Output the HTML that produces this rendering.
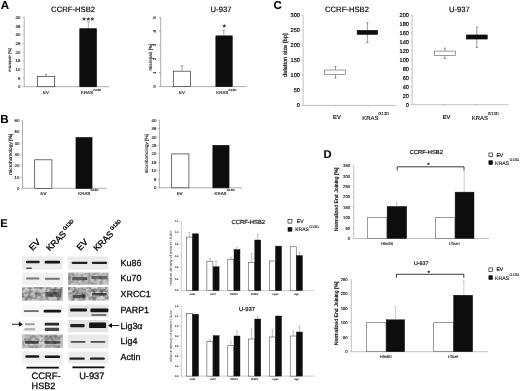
<!DOCTYPE html>
<html lang="en"><head><meta charset="utf-8"><title>Figure</title>
<style>
html,body{margin:0;padding:0;background:#fff;}
body{width:520px;height:391px;overflow:hidden;}
svg{display:block;font-family:"Liberation Sans",sans-serif;text-rendering:geometricPrecision;}
text{stroke:#000;stroke-width:0.1px;paint-order:stroke;}
text.hv{stroke-width:0.3px;}
text.md{stroke-width:0.16px;}
</style></head><body>
<svg width="520" height="391" viewBox="0 0 520 391">
<defs><filter id="bl" x="-5%" y="-5%" width="110%" height="110%"><feGaussianBlur stdDeviation="0.7"/></filter>
<filter id="nz" x="0" y="0" width="100%" height="100%"><feTurbulence type="fractalNoise" baseFrequency="0.28" numOctaves="2" seed="7" result="t"/><feColorMatrix in="t" type="matrix" values="0 0 0 0 0  0 0 0 0 0  0 0 0 0 0  2.6 0 0 0 -0.95" result="a"/><feComposite in="a" in2="SourceGraphic" operator="in"/><feGaussianBlur stdDeviation="0.5"/></filter>
<filter id="soft" x="-2%" y="-2%" width="104%" height="104%"><feGaussianBlur stdDeviation="0.3"/></filter></defs>
<rect width="520" height="391" fill="#fff"/>
<g filter="url(#soft)">
<line x1="24.20" y1="17.40" x2="24.20" y2="86.70" stroke="#8a8a8a" stroke-width="0.7"/>
<line x1="22.60" y1="17.40" x2="24.20" y2="17.40" stroke="#a5a5a5" stroke-width="0.6"/>
<line x1="22.60" y1="26.06" x2="24.20" y2="26.06" stroke="#a5a5a5" stroke-width="0.6"/>
<line x1="22.60" y1="34.73" x2="24.20" y2="34.73" stroke="#a5a5a5" stroke-width="0.6"/>
<line x1="22.60" y1="43.39" x2="24.20" y2="43.39" stroke="#a5a5a5" stroke-width="0.6"/>
<line x1="22.60" y1="52.05" x2="24.20" y2="52.05" stroke="#a5a5a5" stroke-width="0.6"/>
<line x1="22.60" y1="60.71" x2="24.20" y2="60.71" stroke="#a5a5a5" stroke-width="0.6"/>
<line x1="22.60" y1="69.38" x2="24.20" y2="69.38" stroke="#a5a5a5" stroke-width="0.6"/>
<line x1="22.60" y1="78.04" x2="24.20" y2="78.04" stroke="#a5a5a5" stroke-width="0.6"/>
<line x1="22.60" y1="86.70" x2="24.20" y2="86.70" stroke="#a5a5a5" stroke-width="0.6"/>
<line x1="24.20" y1="86.70" x2="109.20" y2="86.70" stroke="#8a8a8a" stroke-width="0.7"/>
<line x1="46.10" y1="76.40" x2="46.10" y2="74.30" stroke="#666" stroke-width="0.6"/>
<line x1="44.80" y1="74.30" x2="47.40" y2="74.30" stroke="#666" stroke-width="0.6"/>
<rect x="37.30" y="76.50" width="17.40" height="10.20" fill="#fff" stroke="#333" stroke-width="0.7"/>
<line x1="88.30" y1="28.70" x2="88.30" y2="21.90" stroke="#777" stroke-width="0.6"/>
<line x1="87.00" y1="21.90" x2="89.60" y2="21.90" stroke="#777" stroke-width="0.6"/>
<rect x="79.80" y="28.70" width="16.70" height="58.00" fill="#0b0b0b" stroke="#0b0b0b" stroke-width="0.7"/>
<line x1="160.70" y1="17.40" x2="160.70" y2="86.60" stroke="#8a8a8a" stroke-width="0.7"/>
<line x1="159.10" y1="17.40" x2="160.70" y2="17.40" stroke="#8a8a8a" stroke-width="0.7"/>
<line x1="159.10" y1="31.24" x2="160.70" y2="31.24" stroke="#8a8a8a" stroke-width="0.7"/>
<line x1="159.10" y1="45.08" x2="160.70" y2="45.08" stroke="#8a8a8a" stroke-width="0.7"/>
<line x1="159.10" y1="58.92" x2="160.70" y2="58.92" stroke="#8a8a8a" stroke-width="0.7"/>
<line x1="159.10" y1="72.76" x2="160.70" y2="72.76" stroke="#8a8a8a" stroke-width="0.7"/>
<line x1="159.10" y1="86.60" x2="160.70" y2="86.60" stroke="#8a8a8a" stroke-width="0.7"/>
<line x1="160.70" y1="86.60" x2="246.70" y2="86.60" stroke="#8a8a8a" stroke-width="0.7"/>
<line x1="182.00" y1="71.10" x2="182.00" y2="65.80" stroke="#666" stroke-width="0.6"/>
<line x1="180.70" y1="65.80" x2="183.30" y2="65.80" stroke="#666" stroke-width="0.6"/>
<rect x="173.30" y="71.20" width="17.30" height="15.40" fill="#fff" stroke="#333" stroke-width="0.7"/>
<line x1="223.80" y1="35.80" x2="223.80" y2="30.20" stroke="#777" stroke-width="0.6"/>
<line x1="222.50" y1="30.20" x2="225.10" y2="30.20" stroke="#777" stroke-width="0.6"/>
<rect x="215.90" y="35.90" width="16.30" height="50.70" fill="#0b0b0b" stroke="#0b0b0b" stroke-width="0.7"/>
<line x1="22.50" y1="120.50" x2="22.50" y2="188.30" stroke="#8a8a8a" stroke-width="0.7"/>
<line x1="20.90" y1="120.50" x2="22.50" y2="120.50" stroke="#a5a5a5" stroke-width="0.6"/>
<line x1="20.90" y1="131.80" x2="22.50" y2="131.80" stroke="#a5a5a5" stroke-width="0.6"/>
<line x1="20.90" y1="143.10" x2="22.50" y2="143.10" stroke="#a5a5a5" stroke-width="0.6"/>
<line x1="20.90" y1="154.40" x2="22.50" y2="154.40" stroke="#a5a5a5" stroke-width="0.6"/>
<line x1="20.90" y1="165.70" x2="22.50" y2="165.70" stroke="#a5a5a5" stroke-width="0.6"/>
<line x1="20.90" y1="177.00" x2="22.50" y2="177.00" stroke="#a5a5a5" stroke-width="0.6"/>
<line x1="20.90" y1="188.30" x2="22.50" y2="188.30" stroke="#a5a5a5" stroke-width="0.6"/>
<line x1="22.50" y1="188.30" x2="106.50" y2="188.30" stroke="#8a8a8a" stroke-width="0.7"/>
<rect x="34.70" y="159.80" width="17.20" height="28.50" fill="#fff" stroke="#333" stroke-width="0.7"/>
<rect x="76.00" y="137.60" width="16.00" height="50.70" fill="#0b0b0b" stroke="#0b0b0b" stroke-width="0.7"/>
<line x1="159.40" y1="120.00" x2="159.40" y2="187.80" stroke="#8a8a8a" stroke-width="0.7"/>
<line x1="157.80" y1="120.00" x2="159.40" y2="120.00" stroke="#a5a5a5" stroke-width="0.6"/>
<line x1="157.80" y1="128.47" x2="159.40" y2="128.47" stroke="#a5a5a5" stroke-width="0.6"/>
<line x1="157.80" y1="136.95" x2="159.40" y2="136.95" stroke="#a5a5a5" stroke-width="0.6"/>
<line x1="157.80" y1="145.43" x2="159.40" y2="145.43" stroke="#a5a5a5" stroke-width="0.6"/>
<line x1="157.80" y1="153.90" x2="159.40" y2="153.90" stroke="#a5a5a5" stroke-width="0.6"/>
<line x1="157.80" y1="162.38" x2="159.40" y2="162.38" stroke="#a5a5a5" stroke-width="0.6"/>
<line x1="157.80" y1="170.85" x2="159.40" y2="170.85" stroke="#a5a5a5" stroke-width="0.6"/>
<line x1="157.80" y1="179.33" x2="159.40" y2="179.33" stroke="#a5a5a5" stroke-width="0.6"/>
<line x1="157.80" y1="187.80" x2="159.40" y2="187.80" stroke="#a5a5a5" stroke-width="0.6"/>
<line x1="159.40" y1="187.80" x2="242.30" y2="187.80" stroke="#8a8a8a" stroke-width="0.7"/>
<rect x="171.70" y="153.90" width="17.20" height="33.90" fill="#fff" stroke="#333" stroke-width="0.7"/>
<rect x="212.90" y="145.40" width="16.10" height="42.40" fill="#0b0b0b" stroke="#0b0b0b" stroke-width="0.7"/>
<line x1="303.10" y1="15.40" x2="303.10" y2="105.40" stroke="#a8a8a8" stroke-width="0.7"/>
<line x1="301.50" y1="15.40" x2="303.10" y2="15.40" stroke="#a8a8a8" stroke-width="0.6"/>
<line x1="301.50" y1="30.40" x2="303.10" y2="30.40" stroke="#a8a8a8" stroke-width="0.6"/>
<line x1="301.50" y1="45.40" x2="303.10" y2="45.40" stroke="#a8a8a8" stroke-width="0.6"/>
<line x1="301.50" y1="60.40" x2="303.10" y2="60.40" stroke="#a8a8a8" stroke-width="0.6"/>
<line x1="301.50" y1="75.40" x2="303.10" y2="75.40" stroke="#a8a8a8" stroke-width="0.6"/>
<line x1="301.50" y1="90.40" x2="303.10" y2="90.40" stroke="#a8a8a8" stroke-width="0.6"/>
<line x1="301.50" y1="105.40" x2="303.10" y2="105.40" stroke="#a8a8a8" stroke-width="0.6"/>
<line x1="303.10" y1="105.40" x2="396.50" y2="105.40" stroke="#a8a8a8" stroke-width="0.7"/>
<line x1="335.50" y1="105.40" x2="335.50" y2="106.80" stroke="#a8a8a8" stroke-width="0.6"/>
<line x1="368.30" y1="105.40" x2="368.30" y2="106.80" stroke="#a8a8a8" stroke-width="0.6"/>
<line x1="335.50" y1="66.50" x2="335.50" y2="78.10" stroke="#555" stroke-width="0.6"/>
<line x1="334.40" y1="66.50" x2="336.60" y2="66.50" stroke="#555" stroke-width="0.6"/>
<line x1="334.40" y1="78.10" x2="336.60" y2="78.10" stroke="#555" stroke-width="0.6"/>
<rect x="324.60" y="70.00" width="21.00" height="4.50" fill="#fff" stroke="#5a5a5a" stroke-width="0.6"/>
<line x1="367.40" y1="22.60" x2="367.40" y2="42.60" stroke="#555" stroke-width="0.6"/>
<line x1="366.30" y1="22.60" x2="368.50" y2="22.60" stroke="#555" stroke-width="0.6"/>
<line x1="366.30" y1="42.60" x2="368.50" y2="42.60" stroke="#555" stroke-width="0.6"/>
<rect x="357.20" y="30.40" width="20.30" height="3.90" fill="#0b0b0b" stroke="#0b0b0b" stroke-width="0.7"/>
<line x1="412.10" y1="15.00" x2="412.10" y2="104.70" stroke="#a8a8a8" stroke-width="0.7"/>
<line x1="410.50" y1="15.00" x2="412.10" y2="15.00" stroke="#a8a8a8" stroke-width="0.6"/>
<line x1="410.50" y1="23.97" x2="412.10" y2="23.97" stroke="#a8a8a8" stroke-width="0.6"/>
<line x1="410.50" y1="32.94" x2="412.10" y2="32.94" stroke="#a8a8a8" stroke-width="0.6"/>
<line x1="410.50" y1="41.91" x2="412.10" y2="41.91" stroke="#a8a8a8" stroke-width="0.6"/>
<line x1="410.50" y1="50.88" x2="412.10" y2="50.88" stroke="#a8a8a8" stroke-width="0.6"/>
<line x1="410.50" y1="59.85" x2="412.10" y2="59.85" stroke="#a8a8a8" stroke-width="0.6"/>
<line x1="410.50" y1="68.82" x2="412.10" y2="68.82" stroke="#a8a8a8" stroke-width="0.6"/>
<line x1="410.50" y1="77.79" x2="412.10" y2="77.79" stroke="#a8a8a8" stroke-width="0.6"/>
<line x1="410.50" y1="86.76" x2="412.10" y2="86.76" stroke="#a8a8a8" stroke-width="0.6"/>
<line x1="410.50" y1="95.73" x2="412.10" y2="95.73" stroke="#a8a8a8" stroke-width="0.6"/>
<line x1="410.50" y1="104.70" x2="412.10" y2="104.70" stroke="#a8a8a8" stroke-width="0.6"/>
<line x1="412.10" y1="104.70" x2="508.70" y2="104.70" stroke="#a8a8a8" stroke-width="0.7"/>
<line x1="444.40" y1="104.70" x2="444.40" y2="106.10" stroke="#a8a8a8" stroke-width="0.6"/>
<line x1="476.80" y1="104.70" x2="476.80" y2="106.10" stroke="#a8a8a8" stroke-width="0.6"/>
<line x1="444.90" y1="48.20" x2="444.90" y2="58.50" stroke="#555" stroke-width="0.6"/>
<line x1="443.80" y1="48.20" x2="446.00" y2="48.20" stroke="#555" stroke-width="0.6"/>
<line x1="443.80" y1="58.50" x2="446.00" y2="58.50" stroke="#555" stroke-width="0.6"/>
<rect x="434.40" y="51.10" width="21.00" height="4.40" fill="#fff" stroke="#5a5a5a" stroke-width="0.6"/>
<line x1="476.80" y1="27.30" x2="476.80" y2="47.50" stroke="#555" stroke-width="0.6"/>
<line x1="475.70" y1="27.30" x2="477.90" y2="27.30" stroke="#555" stroke-width="0.6"/>
<line x1="475.70" y1="47.50" x2="477.90" y2="47.50" stroke="#555" stroke-width="0.6"/>
<rect x="466.40" y="35.00" width="20.80" height="4.00" fill="#0b0b0b" stroke="#0b0b0b" stroke-width="0.7"/>
<rect x="488.90" y="153.00" width="3.60" height="3.60" fill="#fff" stroke="#222" stroke-width="0.7"/>
<rect x="488.90" y="160.70" width="3.60" height="3.80" fill="#0b0b0b" stroke="#0b0b0b" stroke-width="0.6"/>
<line x1="353.70" y1="165.70" x2="353.70" y2="238.50" stroke="#a8a8a8" stroke-width="0.7"/>
<line x1="352.50" y1="165.70" x2="353.70" y2="165.70" stroke="#a8a8a8" stroke-width="0.6"/>
<line x1="352.50" y1="176.10" x2="353.70" y2="176.10" stroke="#a8a8a8" stroke-width="0.6"/>
<line x1="352.50" y1="186.50" x2="353.70" y2="186.50" stroke="#a8a8a8" stroke-width="0.6"/>
<line x1="352.50" y1="196.90" x2="353.70" y2="196.90" stroke="#a8a8a8" stroke-width="0.6"/>
<line x1="352.50" y1="207.30" x2="353.70" y2="207.30" stroke="#a8a8a8" stroke-width="0.6"/>
<line x1="352.50" y1="217.70" x2="353.70" y2="217.70" stroke="#a8a8a8" stroke-width="0.6"/>
<line x1="352.50" y1="228.10" x2="353.70" y2="228.10" stroke="#a8a8a8" stroke-width="0.6"/>
<line x1="352.50" y1="238.50" x2="353.70" y2="238.50" stroke="#a8a8a8" stroke-width="0.6"/>
<line x1="353.70" y1="238.50" x2="489.20" y2="238.50" stroke="#a8a8a8" stroke-width="0.7"/>
<rect x="367.30" y="217.70" width="19.60" height="20.80" fill="#fff" stroke="#5a5a5a" stroke-width="0.6"/>
<rect x="387.10" y="206.40" width="19.60" height="32.10" fill="#0b0b0b" stroke="#0b0b0b" stroke-width="0.4"/>
<line x1="396.70" y1="206.20" x2="396.70" y2="202.60" stroke="#999" stroke-width="0.5"/>
<line x1="395.90" y1="202.60" x2="397.50" y2="202.60" stroke="#999" stroke-width="0.5"/>
<rect x="435.60" y="217.70" width="19.40" height="20.80" fill="#fff" stroke="#5a5a5a" stroke-width="0.6"/>
<rect x="455.10" y="192.10" width="18.90" height="46.40" fill="#0b0b0b" stroke="#0b0b0b" stroke-width="0.4"/>
<line x1="464.20" y1="192.30" x2="464.20" y2="171.80" stroke="#999" stroke-width="0.5"/>
<line x1="463.40" y1="171.80" x2="465.00" y2="171.80" stroke="#999" stroke-width="0.5"/>
<path d="M397.2 170.4V166.8H464V170.4" fill="none" stroke="#222" stroke-width="0.9"/>
<rect x="488.90" y="267.90" width="3.60" height="3.60" fill="#fff" stroke="#222" stroke-width="0.7"/>
<rect x="488.90" y="275.70" width="3.60" height="3.80" fill="#0b0b0b" stroke="#0b0b0b" stroke-width="0.6"/>
<line x1="351.30" y1="279.40" x2="351.30" y2="351.70" stroke="#a8a8a8" stroke-width="0.7"/>
<line x1="350.10" y1="279.40" x2="351.30" y2="279.40" stroke="#a8a8a8" stroke-width="0.6"/>
<line x1="350.10" y1="293.86" x2="351.30" y2="293.86" stroke="#a8a8a8" stroke-width="0.6"/>
<line x1="350.10" y1="308.32" x2="351.30" y2="308.32" stroke="#a8a8a8" stroke-width="0.6"/>
<line x1="350.10" y1="322.78" x2="351.30" y2="322.78" stroke="#a8a8a8" stroke-width="0.6"/>
<line x1="350.10" y1="337.24" x2="351.30" y2="337.24" stroke="#a8a8a8" stroke-width="0.6"/>
<line x1="350.10" y1="351.70" x2="351.30" y2="351.70" stroke="#a8a8a8" stroke-width="0.6"/>
<line x1="351.30" y1="351.70" x2="488.00" y2="351.70" stroke="#a8a8a8" stroke-width="0.7"/>
<rect x="366.60" y="322.70" width="19.40" height="29.00" fill="#fff" stroke="#5a5a5a" stroke-width="0.6"/>
<rect x="386.20" y="319.80" width="18.50" height="31.90" fill="#0b0b0b" stroke="#0b0b0b" stroke-width="0.4"/>
<line x1="395.60" y1="319.60" x2="395.60" y2="306.60" stroke="#999" stroke-width="0.5"/>
<line x1="394.80" y1="306.60" x2="396.40" y2="306.60" stroke="#999" stroke-width="0.5"/>
<rect x="433.70" y="322.70" width="19.60" height="29.00" fill="#fff" stroke="#555" stroke-width="0.6"/>
<rect x="453.60" y="295.20" width="19.10" height="56.50" fill="#0b0b0b" stroke="#0b0b0b" stroke-width="0.4"/>
<line x1="463.80" y1="295.00" x2="463.80" y2="280.50" stroke="#999" stroke-width="0.5"/>
<line x1="463.00" y1="280.50" x2="464.60" y2="280.50" stroke="#999" stroke-width="0.5"/>
<path d="M396.4 277.7V274.3H463.8V277.7" fill="none" stroke="#222" stroke-width="0.9"/>
<rect x="288.00" y="219.40" width="3.90" height="3.70" fill="#fff" stroke="#222" stroke-width="0.7"/>
<rect x="288.00" y="227.40" width="3.90" height="3.80" fill="#0b0b0b" stroke="#0b0b0b" stroke-width="0.6"/>
<line x1="181.30" y1="220.80" x2="181.30" y2="290.60" stroke="#a8a8a8" stroke-width="0.6"/>
<line x1="180.40" y1="220.80" x2="181.30" y2="220.80" stroke="#a8a8a8" stroke-width="0.5"/>
<line x1="180.40" y1="232.43" x2="181.30" y2="232.43" stroke="#a8a8a8" stroke-width="0.5"/>
<line x1="180.40" y1="244.07" x2="181.30" y2="244.07" stroke="#a8a8a8" stroke-width="0.5"/>
<line x1="180.40" y1="255.70" x2="181.30" y2="255.70" stroke="#a8a8a8" stroke-width="0.5"/>
<line x1="180.40" y1="267.33" x2="181.30" y2="267.33" stroke="#a8a8a8" stroke-width="0.5"/>
<line x1="180.40" y1="278.97" x2="181.30" y2="278.97" stroke="#a8a8a8" stroke-width="0.5"/>
<line x1="180.40" y1="290.60" x2="181.30" y2="290.60" stroke="#a8a8a8" stroke-width="0.5"/>
<line x1="181.30" y1="290.60" x2="314.50" y2="290.60" stroke="#a8a8a8" stroke-width="0.6"/>
<line x1="189.35" y1="237.10" x2="189.35" y2="232.30" stroke="#777" stroke-width="0.45"/>
<line x1="188.55" y1="232.30" x2="190.15" y2="232.30" stroke="#777" stroke-width="0.45"/>
<rect x="186.30" y="237.10" width="6.00" height="53.50" fill="#fff" stroke="#333" stroke-width="0.5"/>
<rect x="192.50" y="233.80" width="6.00" height="56.80" fill="#0b0b0b" stroke="#0b0b0b" stroke-width="0.4"/>
<line x1="209.95" y1="261.20" x2="209.95" y2="258.50" stroke="#777" stroke-width="0.45"/>
<line x1="209.15" y1="258.50" x2="210.75" y2="258.50" stroke="#777" stroke-width="0.45"/>
<line x1="216.05" y1="266.80" x2="216.05" y2="261.00" stroke="#777" stroke-width="0.45"/>
<line x1="215.25" y1="261.00" x2="216.85" y2="261.00" stroke="#777" stroke-width="0.45"/>
<rect x="206.90" y="261.20" width="6.00" height="29.40" fill="#fff" stroke="#333" stroke-width="0.5"/>
<rect x="213.10" y="266.80" width="6.00" height="23.80" fill="#0b0b0b" stroke="#0b0b0b" stroke-width="0.4"/>
<line x1="230.85" y1="259.20" x2="230.85" y2="257.50" stroke="#777" stroke-width="0.45"/>
<line x1="230.05" y1="257.50" x2="231.65" y2="257.50" stroke="#777" stroke-width="0.45"/>
<line x1="236.95" y1="249.60" x2="236.95" y2="247.70" stroke="#777" stroke-width="0.45"/>
<line x1="236.15" y1="247.70" x2="237.75" y2="247.70" stroke="#777" stroke-width="0.45"/>
<rect x="227.80" y="259.20" width="6.00" height="31.40" fill="#fff" stroke="#333" stroke-width="0.5"/>
<rect x="234.00" y="249.60" width="6.00" height="41.00" fill="#0b0b0b" stroke="#0b0b0b" stroke-width="0.4"/>
<line x1="251.65" y1="262.30" x2="251.65" y2="253.70" stroke="#777" stroke-width="0.45"/>
<line x1="250.85" y1="253.70" x2="252.45" y2="253.70" stroke="#777" stroke-width="0.45"/>
<line x1="257.75" y1="240.00" x2="257.75" y2="234.10" stroke="#777" stroke-width="0.45"/>
<line x1="256.95" y1="234.10" x2="258.55" y2="234.10" stroke="#777" stroke-width="0.45"/>
<rect x="248.60" y="262.30" width="6.00" height="28.30" fill="#fff" stroke="#333" stroke-width="0.5"/>
<rect x="254.80" y="240.00" width="6.00" height="50.60" fill="#0b0b0b" stroke="#0b0b0b" stroke-width="0.4"/>
<rect x="269.30" y="261.00" width="6.00" height="29.60" fill="#fff" stroke="#333" stroke-width="0.5"/>
<rect x="275.50" y="246.10" width="6.00" height="44.50" fill="#0b0b0b" stroke="#0b0b0b" stroke-width="0.4"/>
<line x1="299.35" y1="255.60" x2="299.35" y2="252.20" stroke="#777" stroke-width="0.45"/>
<line x1="298.55" y1="252.20" x2="300.15" y2="252.20" stroke="#777" stroke-width="0.45"/>
<rect x="290.20" y="246.80" width="6.00" height="43.80" fill="#fff" stroke="#333" stroke-width="0.5"/>
<rect x="296.40" y="255.60" width="6.00" height="35.00" fill="#0b0b0b" stroke="#0b0b0b" stroke-width="0.4"/>
<line x1="181.30" y1="305.90" x2="181.30" y2="376.10" stroke="#a8a8a8" stroke-width="0.6"/>
<line x1="180.40" y1="305.90" x2="181.30" y2="305.90" stroke="#a8a8a8" stroke-width="0.5"/>
<line x1="180.40" y1="315.93" x2="181.30" y2="315.93" stroke="#a8a8a8" stroke-width="0.5"/>
<line x1="180.40" y1="325.96" x2="181.30" y2="325.96" stroke="#a8a8a8" stroke-width="0.5"/>
<line x1="180.40" y1="335.99" x2="181.30" y2="335.99" stroke="#a8a8a8" stroke-width="0.5"/>
<line x1="180.40" y1="346.01" x2="181.30" y2="346.01" stroke="#a8a8a8" stroke-width="0.5"/>
<line x1="180.40" y1="356.04" x2="181.30" y2="356.04" stroke="#a8a8a8" stroke-width="0.5"/>
<line x1="180.40" y1="366.07" x2="181.30" y2="366.07" stroke="#a8a8a8" stroke-width="0.5"/>
<line x1="180.40" y1="376.10" x2="181.30" y2="376.10" stroke="#a8a8a8" stroke-width="0.5"/>
<line x1="181.30" y1="376.10" x2="314.50" y2="376.10" stroke="#a8a8a8" stroke-width="0.6"/>
<rect x="186.30" y="313.60" width="6.00" height="62.50" fill="#fff" stroke="#333" stroke-width="0.5"/>
<rect x="192.50" y="314.20" width="6.00" height="61.90" fill="#0b0b0b" stroke="#0b0b0b" stroke-width="0.4"/>
<line x1="209.95" y1="341.60" x2="209.95" y2="339.60" stroke="#777" stroke-width="0.45"/>
<line x1="209.15" y1="339.60" x2="210.75" y2="339.60" stroke="#777" stroke-width="0.45"/>
<rect x="206.90" y="341.60" width="6.00" height="34.50" fill="#fff" stroke="#333" stroke-width="0.5"/>
<rect x="213.10" y="335.60" width="6.00" height="40.50" fill="#0b0b0b" stroke="#0b0b0b" stroke-width="0.4"/>
<line x1="230.85" y1="345.60" x2="230.85" y2="341.80" stroke="#777" stroke-width="0.45"/>
<line x1="230.05" y1="341.80" x2="231.65" y2="341.80" stroke="#777" stroke-width="0.45"/>
<line x1="236.95" y1="336.00" x2="236.95" y2="331.30" stroke="#777" stroke-width="0.45"/>
<line x1="236.15" y1="331.30" x2="237.75" y2="331.30" stroke="#777" stroke-width="0.45"/>
<rect x="227.80" y="345.60" width="6.00" height="30.50" fill="#fff" stroke="#333" stroke-width="0.5"/>
<rect x="234.00" y="336.00" width="6.00" height="40.10" fill="#0b0b0b" stroke="#0b0b0b" stroke-width="0.4"/>
<line x1="251.65" y1="339.00" x2="251.65" y2="328.80" stroke="#777" stroke-width="0.45"/>
<line x1="250.85" y1="328.80" x2="252.45" y2="328.80" stroke="#777" stroke-width="0.45"/>
<line x1="257.75" y1="319.00" x2="257.75" y2="316.50" stroke="#777" stroke-width="0.45"/>
<line x1="256.95" y1="316.50" x2="258.55" y2="316.50" stroke="#777" stroke-width="0.45"/>
<rect x="248.60" y="339.00" width="6.00" height="37.10" fill="#fff" stroke="#333" stroke-width="0.5"/>
<rect x="254.80" y="319.00" width="6.00" height="57.10" fill="#0b0b0b" stroke="#0b0b0b" stroke-width="0.4"/>
<line x1="272.35" y1="337.00" x2="272.35" y2="329.50" stroke="#777" stroke-width="0.45"/>
<line x1="271.55" y1="329.50" x2="273.15" y2="329.50" stroke="#777" stroke-width="0.45"/>
<rect x="269.30" y="337.00" width="6.00" height="39.10" fill="#fff" stroke="#333" stroke-width="0.5"/>
<rect x="275.50" y="316.00" width="6.00" height="60.10" fill="#0b0b0b" stroke="#0b0b0b" stroke-width="0.4"/>
<line x1="293.25" y1="336.00" x2="293.25" y2="331.30" stroke="#777" stroke-width="0.45"/>
<line x1="292.45" y1="331.30" x2="294.05" y2="331.30" stroke="#777" stroke-width="0.45"/>
<line x1="299.35" y1="332.00" x2="299.35" y2="325.80" stroke="#777" stroke-width="0.45"/>
<line x1="298.55" y1="325.80" x2="300.15" y2="325.80" stroke="#777" stroke-width="0.45"/>
<rect x="290.20" y="336.00" width="6.00" height="40.10" fill="#fff" stroke="#333" stroke-width="0.5"/>
<rect x="296.40" y="332.00" width="6.00" height="44.10" fill="#0b0b0b" stroke="#0b0b0b" stroke-width="0.4"/>
<g filter="url(#bl)">
<rect x="22.0" y="256.3" width="40.80" height="13.30" fill="#ececec"/>
<rect x="68.1" y="256.3" width="40.50" height="13.30" fill="#ebebeb"/>
<rect x="22.0" y="272.6" width="40.80" height="12.20" fill="#f0f0f0"/>
<rect x="68.1" y="272.6" width="40.50" height="12.20" fill="#c6c6c6"/>
<rect x="22.0" y="287.2" width="40.80" height="13.40" fill="#cbcbcb"/>
<rect x="68.1" y="287.2" width="40.50" height="13.40" fill="#d2d2d2"/>
<rect x="22.0" y="304.6" width="40.80" height="12.60" fill="#f6f6f6"/>
<rect x="68.1" y="304.6" width="40.50" height="12.60" fill="#e6e6e6"/>
<rect x="22.0" y="320.0" width="40.80" height="12.20" fill="#f6f6f6"/>
<rect x="68.1" y="320.0" width="40.50" height="12.20" fill="#e3e3e3"/>
<rect x="22.0" y="334.4" width="40.80" height="13.80" fill="#d4d4d4"/>
<rect x="68.1" y="334.4" width="40.50" height="13.80" fill="#e9e9e9"/>
<rect x="22.0" y="351.5" width="40.80" height="12.10" fill="#f0f0f0"/>
<rect x="68.1" y="351.5" width="40.50" height="12.10" fill="#ececec"/>
</g>
<rect x="22.0" y="287.2" width="40.80" height="13.40" fill="#000" opacity="0.42" filter="url(#nz)"/>
<rect x="68.1" y="287.2" width="40.50" height="13.40" fill="#000" opacity="0.45" filter="url(#nz)"/>
<rect x="68.1" y="272.6" width="40.50" height="12.20" fill="#000" opacity="0.25" filter="url(#nz)"/>
<rect x="22.0" y="334.4" width="40.80" height="13.80" fill="#000" opacity="0.3" filter="url(#nz)"/>
<g filter="url(#bl)">
<rect x="25.80" y="260.80" width="14.00" height="2.40" rx="1.20" fill="#0c0c0c" opacity="0.9"/>
<rect x="44.65" y="260.80" width="15.50" height="2.80" rx="1.20" fill="#0c0c0c" opacity="0.95"/>
<rect x="26.00" y="267.40" width="6.00" height="1.60" rx="0.80" fill="#0c0c0c" opacity="0.7"/>
<rect x="71.60" y="261.70" width="16.00" height="2.20" rx="1.10" fill="#0c0c0c" opacity="0.9"/>
<rect x="91.65" y="261.70" width="15.50" height="2.20" rx="1.10" fill="#0c0c0c" opacity="0.9"/>
<rect x="26.05" y="277.60" width="13.50" height="1.80" rx="0.90" fill="#0c0c0c" opacity="0.5"/>
<rect x="44.90" y="277.80" width="15.00" height="2.00" rx="1.00" fill="#0c0c0c" opacity="0.55"/>
<rect x="72.10" y="277.00" width="15.00" height="3.20" rx="1.20" fill="#0c0c0c" opacity="0.55"/>
<rect x="91.40" y="276.00" width="16.00" height="3.20" rx="1.20" fill="#0c0c0c" opacity="0.45"/>
<rect x="68.10" y="272.60" width="3.00" height="12.00" rx="1.20" fill="#0c0c0c" opacity="0.18"/>
<rect x="87.55" y="272.60" width="2.50" height="12.00" rx="1.20" fill="#0c0c0c" opacity="0.12"/>
<rect x="45.40" y="291.70" width="16.00" height="5.00" rx="1.20" fill="#0c0c0c" opacity="0.5"/>
<rect x="49.40" y="288.70" width="12.00" height="3.00" rx="1.20" fill="#0c0c0c" opacity="0.3"/>
<rect x="25.30" y="290.00" width="15.00" height="8.00" rx="1.20" fill="#0c0c0c" opacity="0.08"/>
<rect x="72.60" y="294.90" width="13.00" height="3.40" rx="1.20" fill="#0c0c0c" opacity="0.5"/>
<rect x="71.60" y="288.50" width="14.00" height="9.00" rx="1.20" fill="#0c0c0c" opacity="0.18"/>
<rect x="91.90" y="293.00" width="15.00" height="2.60" rx="1.20" fill="#0c0c0c" opacity="0.7"/>
<rect x="92.40" y="289.00" width="14.00" height="3.00" rx="1.20" fill="#0c0c0c" opacity="0.15"/>
<rect x="23.80" y="310.25" width="15.00" height="1.70" rx="0.85" fill="#0c0c0c" opacity="0.6"/>
<rect x="43.65" y="309.70" width="17.50" height="2.80" rx="1.20" fill="#0c0c0c" opacity="0.95"/>
<rect x="70.10" y="308.60" width="17.00" height="2.80" rx="1.20" fill="#0c0c0c" opacity="0.95"/>
<rect x="90.40" y="308.50" width="18.00" height="3.80" rx="1.20" fill="#0c0c0c" opacity="0.97"/>
<rect x="91.40" y="314.10" width="15.00" height="1.80" rx="0.90" fill="#0c0c0c" opacity="0.55"/>
<rect x="24.80" y="323.30" width="10.00" height="2.00" rx="1.00" fill="#0c0c0c" opacity="0.35"/>
<rect x="24.30" y="328.00" width="11.00" height="2.40" rx="1.20" fill="#0c0c0c" opacity="0.25"/>
<rect x="44.65" y="322.80" width="14.50" height="2.80" rx="1.20" fill="#0c0c0c" opacity="0.88"/>
<rect x="44.65" y="327.70" width="14.50" height="3.20" rx="1.20" fill="#0c0c0c" opacity="0.75"/>
<rect x="70.15" y="323.90" width="14.50" height="3.40" rx="1.20" fill="#0c0c0c" opacity="0.9"/>
<rect x="89.10" y="322.50" width="17.00" height="5.60" rx="1.20" fill="#0c0c0c" opacity="0.97"/>
<rect x="24.80" y="341.00" width="14.00" height="2.80" rx="1.20" fill="#0c0c0c" opacity="0.7"/>
<rect x="44.40" y="340.70" width="16.00" height="3.00" rx="1.20" fill="#0c0c0c" opacity="0.65"/>
<rect x="24.30" y="335.30" width="15.00" height="5.00" rx="1.20" fill="#0c0c0c" opacity="0.12"/>
<rect x="44.40" y="335.30" width="16.00" height="5.00" rx="1.20" fill="#0c0c0c" opacity="0.2"/>
<rect x="24.30" y="345.05" width="15.00" height="2.50" rx="1.20" fill="#0c0c0c" opacity="0.1"/>
<rect x="44.40" y="345.05" width="16.00" height="2.50" rx="1.20" fill="#0c0c0c" opacity="0.15"/>
<rect x="70.60" y="340.90" width="15.00" height="1.80" rx="0.90" fill="#0c0c0c" opacity="0.7"/>
<rect x="90.40" y="340.90" width="15.00" height="1.80" rx="0.90" fill="#0c0c0c" opacity="0.7"/>
<rect x="25.30" y="355.35" width="14.00" height="2.50" rx="1.20" fill="#0c0c0c" opacity="0.95"/>
<rect x="44.65" y="355.55" width="15.50" height="2.50" rx="1.20" fill="#0c0c0c" opacity="0.95"/>
<rect x="69.35" y="357.60" width="15.50" height="2.20" rx="1.10" fill="#0c0c0c" opacity="0.9"/>
<rect x="89.90" y="357.60" width="15.00" height="2.20" rx="1.10" fill="#0c0c0c" opacity="0.9"/>
</g>
<path d="M12 324.3H20" stroke="#111" stroke-width="0.9" fill="none"/><path d="M22.9 324.3L18.9 321.8V326.8Z" fill="#111"/>
<path d="M119.2 325.5H111" stroke="#111" stroke-width="0.9" fill="none"/><path d="M108 325.5L112 323.1V327.9Z" fill="#111"/>
<line x1="26.50" y1="367.70" x2="58.80" y2="367.70" stroke="#0a0a0a" stroke-width="1.8"/>
<line x1="72.40" y1="367.40" x2="104.50" y2="367.40" stroke="#0a0a0a" stroke-width="1.8"/>
</g>
<g>
<text x="0.80" y="9.20" font-size="11.6" text-anchor="start" font-weight="bold" fill="#000">A</text>
<text x="73.10" y="11.90" font-size="7.7" text-anchor="middle" font-weight="normal" fill="#000" class="md">CCRF-HSB2</text>
<text x="20.40" y="18.95" font-size="4.3" text-anchor="end" font-weight="normal" fill="#000">40</text>
<text x="20.40" y="27.61" font-size="4.3" text-anchor="end" font-weight="normal" fill="#000">35</text>
<text x="20.40" y="36.27" font-size="4.3" text-anchor="end" font-weight="normal" fill="#000">30</text>
<text x="20.40" y="44.94" font-size="4.3" text-anchor="end" font-weight="normal" fill="#000">25</text>
<text x="20.40" y="53.60" font-size="4.3" text-anchor="end" font-weight="normal" fill="#000">20</text>
<text x="20.40" y="62.26" font-size="4.3" text-anchor="end" font-weight="normal" fill="#000">15</text>
<text x="20.40" y="70.92" font-size="4.3" text-anchor="end" font-weight="normal" fill="#000">10</text>
<text x="20.40" y="79.59" font-size="4.3" text-anchor="end" font-weight="normal" fill="#000">5</text>
<text x="20.40" y="88.25" font-size="4.3" text-anchor="end" font-weight="normal" fill="#000">0</text>
<text x="84.00" y="23.00" font-size="8.0" text-anchor="middle" font-weight="bold" fill="#222">*</text>
<text x="88.20" y="23.00" font-size="8.0" text-anchor="middle" font-weight="bold" fill="#222">*</text>
<text x="92.40" y="23.00" font-size="8.0" text-anchor="middle" font-weight="bold" fill="#222">*</text>
<text x="46.00" y="93.90" font-size="4.4" text-anchor="middle" font-weight="normal" fill="#000">EV</text>
<text x="81.00" y="94.20" font-size="4.4" fill="#000">KRAS<tspan font-size="3.0" dy="-3.4" dx="0.2">G13D</tspan></text>
<text x="11.40" y="60.00" font-size="4.0" text-anchor="middle" font-weight="normal" fill="#000" transform="rotate(-90 11.40 60.00)">misrepair [%]</text>
<text x="221.00" y="11.90" font-size="7.7" text-anchor="middle" font-weight="normal" fill="#000" class="md">U-937</text>
<text x="156.40" y="17.40" font-size="4.4" text-anchor="middle" font-weight="normal" fill="#000" transform="rotate(-90 156.40 17.40)">5</text>
<text x="156.40" y="31.24" font-size="4.4" text-anchor="middle" font-weight="normal" fill="#000" transform="rotate(-90 156.40 31.24)">4</text>
<text x="156.40" y="45.08" font-size="4.4" text-anchor="middle" font-weight="normal" fill="#000" transform="rotate(-90 156.40 45.08)">3</text>
<text x="156.40" y="58.92" font-size="4.4" text-anchor="middle" font-weight="normal" fill="#000" transform="rotate(-90 156.40 58.92)">2</text>
<text x="156.40" y="72.76" font-size="4.4" text-anchor="middle" font-weight="normal" fill="#000" transform="rotate(-90 156.40 72.76)">1</text>
<text x="156.40" y="86.60" font-size="4.4" text-anchor="middle" font-weight="normal" fill="#000" transform="rotate(-90 156.40 86.60)">0</text>
<text x="224.30" y="30.40" font-size="8.0" text-anchor="middle" font-weight="bold" fill="#222">*</text>
<text x="181.90" y="93.90" font-size="4.4" text-anchor="middle" font-weight="normal" fill="#000">EV</text>
<text x="216.30" y="94.20" font-size="4.4" fill="#000">KRAS<tspan font-size="3.0" dy="-3.4" dx="0.2">G13D</tspan></text>
<text x="152.10" y="57.10" font-size="4.6" text-anchor="middle" font-weight="normal" fill="#000" transform="rotate(-90 152.10 57.10)">misrepair [%]</text>
<text x="0.30" y="123.00" font-size="11.6" text-anchor="start" font-weight="bold" fill="#000">B</text>
<text x="19.40" y="122.05" font-size="4.3" text-anchor="end" font-weight="normal" fill="#000">60</text>
<text x="19.40" y="133.35" font-size="4.3" text-anchor="end" font-weight="normal" fill="#000">50</text>
<text x="19.40" y="144.65" font-size="4.3" text-anchor="end" font-weight="normal" fill="#000">40</text>
<text x="19.40" y="155.95" font-size="4.3" text-anchor="end" font-weight="normal" fill="#000">30</text>
<text x="19.40" y="167.25" font-size="4.3" text-anchor="end" font-weight="normal" fill="#000">20</text>
<text x="19.40" y="178.55" font-size="4.3" text-anchor="end" font-weight="normal" fill="#000">10</text>
<text x="19.40" y="189.85" font-size="4.3" text-anchor="end" font-weight="normal" fill="#000">0</text>
<text x="43.50" y="194.80" font-size="4.4" text-anchor="middle" font-weight="normal" fill="#000">EV</text>
<text x="78.30" y="194.80" font-size="4.4" fill="#000">KRAS<tspan font-size="3.0" dy="-3.4" dx="0.2">G13D</tspan></text>
<text x="11.60" y="154.30" font-size="4.8" text-anchor="middle" font-weight="normal" fill="#000" transform="rotate(-90 11.60 154.30)">microhomology [%]</text>
<text x="156.30" y="121.55" font-size="4.3" text-anchor="end" font-weight="normal" fill="#000">40</text>
<text x="156.30" y="130.02" font-size="4.3" text-anchor="end" font-weight="normal" fill="#000">35</text>
<text x="156.30" y="138.50" font-size="4.3" text-anchor="end" font-weight="normal" fill="#000">30</text>
<text x="156.30" y="146.97" font-size="4.3" text-anchor="end" font-weight="normal" fill="#000">25</text>
<text x="156.30" y="155.45" font-size="4.3" text-anchor="end" font-weight="normal" fill="#000">20</text>
<text x="156.30" y="163.92" font-size="4.3" text-anchor="end" font-weight="normal" fill="#000">15</text>
<text x="156.30" y="172.40" font-size="4.3" text-anchor="end" font-weight="normal" fill="#000">10</text>
<text x="156.30" y="180.87" font-size="4.3" text-anchor="end" font-weight="normal" fill="#000">5</text>
<text x="156.30" y="189.35" font-size="4.3" text-anchor="end" font-weight="normal" fill="#000">0</text>
<text x="179.60" y="194.80" font-size="4.4" text-anchor="middle" font-weight="normal" fill="#000">EV</text>
<text x="214.60" y="194.80" font-size="4.4" fill="#000">KRAS<tspan font-size="3.0" dy="-3.4" dx="0.2">G13D</tspan></text>
<text x="148.00" y="153.70" font-size="4.6" text-anchor="middle" font-weight="normal" fill="#000" transform="rotate(-90 148.00 153.70)">microhomology [%]</text>
<text x="273.40" y="9.40" font-size="11.4" text-anchor="start" font-weight="bold" fill="#000">C</text>
<text x="347.00" y="11.90" font-size="7.7" text-anchor="middle" font-weight="normal" fill="#000" class="md">CCRF-HSB2</text>
<text x="299.90" y="17.42" font-size="5.6" text-anchor="end" font-weight="normal" fill="#000" class="md">300</text>
<text x="299.90" y="32.42" font-size="5.6" text-anchor="end" font-weight="normal" fill="#000" class="md">250</text>
<text x="299.90" y="47.42" font-size="5.6" text-anchor="end" font-weight="normal" fill="#000" class="md">200</text>
<text x="299.90" y="62.42" font-size="5.6" text-anchor="end" font-weight="normal" fill="#000" class="md">150</text>
<text x="299.90" y="77.42" font-size="5.6" text-anchor="end" font-weight="normal" fill="#000" class="md">100</text>
<text x="299.90" y="92.42" font-size="5.6" text-anchor="end" font-weight="normal" fill="#000" class="md">50</text>
<text x="299.90" y="107.42" font-size="5.6" text-anchor="end" font-weight="normal" fill="#000" class="md">0</text>
<text x="336.90" y="119.10" font-size="5.8" text-anchor="middle" font-weight="normal" fill="#000" class="md">EV</text>
<text x="375.80" y="119.50" font-size="5.9" text-anchor="middle" fill="#000">KRAS<tspan font-size="4.20" dy="-4.50">G13D</tspan></text>
<text x="287.40" y="55.20" font-size="5.8" text-anchor="middle" font-weight="normal" fill="#000" transform="rotate(-90 287.40 55.20)" class="md">deletion size [bp]</text>
<text x="459.40" y="11.90" font-size="7.7" text-anchor="middle" font-weight="normal" fill="#000" class="md">U-937</text>
<text x="408.90" y="17.02" font-size="5.6" text-anchor="end" font-weight="normal" fill="#000" class="md">200</text>
<text x="408.90" y="25.99" font-size="5.6" text-anchor="end" font-weight="normal" fill="#000" class="md">180</text>
<text x="408.90" y="34.96" font-size="5.6" text-anchor="end" font-weight="normal" fill="#000" class="md">160</text>
<text x="408.90" y="43.93" font-size="5.6" text-anchor="end" font-weight="normal" fill="#000" class="md">140</text>
<text x="408.90" y="52.90" font-size="5.6" text-anchor="end" font-weight="normal" fill="#000" class="md">120</text>
<text x="408.90" y="61.87" font-size="5.6" text-anchor="end" font-weight="normal" fill="#000" class="md">100</text>
<text x="408.90" y="70.84" font-size="5.6" text-anchor="end" font-weight="normal" fill="#000" class="md">80</text>
<text x="408.90" y="79.81" font-size="5.6" text-anchor="end" font-weight="normal" fill="#000" class="md">60</text>
<text x="408.90" y="88.78" font-size="5.6" text-anchor="end" font-weight="normal" fill="#000" class="md">40</text>
<text x="408.90" y="97.75" font-size="5.6" text-anchor="end" font-weight="normal" fill="#000" class="md">20</text>
<text x="408.90" y="106.72" font-size="5.6" text-anchor="end" font-weight="normal" fill="#000" class="md">0</text>
<text x="446.50" y="119.10" font-size="5.8" text-anchor="middle" font-weight="normal" fill="#000" class="md">EV</text>
<text x="485.30" y="119.50" font-size="5.9" text-anchor="middle" fill="#000">KRAS<tspan font-size="4.20" dy="-4.50">G13D</tspan></text>
<text x="323.60" y="157.70" font-size="11.2" text-anchor="start" font-weight="bold" fill="#000">D</text>
<text x="426.30" y="153.70" font-size="5.8" text-anchor="middle" font-weight="normal" fill="#000" class="md">CCRF-HSB2</text>
<text x="496.50" y="156.50" font-size="5.0" text-anchor="start" font-weight="normal" fill="#000" class="md">EV</text>
<text x="495.0" y="164.60" font-size="5.2" fill="#000">KRAS<tspan font-size="3.7" dy="-3.8" dx="0.4">G13D</tspan></text>
<text x="350.10" y="167.21" font-size="4.2" text-anchor="end" font-weight="normal" fill="#000">350</text>
<text x="350.10" y="177.61" font-size="4.2" text-anchor="end" font-weight="normal" fill="#000">300</text>
<text x="350.10" y="188.01" font-size="4.2" text-anchor="end" font-weight="normal" fill="#000">250</text>
<text x="350.10" y="198.41" font-size="4.2" text-anchor="end" font-weight="normal" fill="#000">200</text>
<text x="350.10" y="208.81" font-size="4.2" text-anchor="end" font-weight="normal" fill="#000">150</text>
<text x="350.10" y="219.21" font-size="4.2" text-anchor="end" font-weight="normal" fill="#000">100</text>
<text x="350.10" y="229.61" font-size="4.2" text-anchor="end" font-weight="normal" fill="#000">50</text>
<text x="350.10" y="240.01" font-size="4.2" text-anchor="end" font-weight="normal" fill="#000">0</text>
<text x="428.40" y="167.00" font-size="6.2" text-anchor="middle" font-weight="bold" fill="#000">*</text>
<text x="387.00" y="244.70" font-size="4.1" text-anchor="middle" font-weight="normal" fill="#000">HindIII</text>
<text x="454.20" y="244.70" font-size="4.1" text-anchor="middle" font-weight="normal" fill="#000">I-SceI</text>
<text x="338.00" y="199.30" font-size="5.2" text-anchor="middle" font-weight="normal" fill="#000" transform="rotate(-90 338.00 199.30)" class="md">Normalized End Joining [%]</text>
<text x="421.20" y="265.00" font-size="5.3" text-anchor="middle" font-weight="normal" fill="#000" class="md">U-937</text>
<text x="496.50" y="271.40" font-size="5.0" text-anchor="start" font-weight="normal" fill="#000" class="md">EV</text>
<text x="495.0" y="279.60" font-size="5.2" fill="#000">KRAS<tspan font-size="3.7" dy="-3.8" dx="0.4">G13D</tspan></text>
<text x="347.70" y="280.91" font-size="4.2" text-anchor="end" font-weight="normal" fill="#000">250</text>
<text x="347.70" y="295.37" font-size="4.2" text-anchor="end" font-weight="normal" fill="#000">200</text>
<text x="347.70" y="309.83" font-size="4.2" text-anchor="end" font-weight="normal" fill="#000">150</text>
<text x="347.70" y="324.29" font-size="4.2" text-anchor="end" font-weight="normal" fill="#000">100</text>
<text x="347.70" y="338.75" font-size="4.2" text-anchor="end" font-weight="normal" fill="#000">50</text>
<text x="347.70" y="353.21" font-size="4.2" text-anchor="end" font-weight="normal" fill="#000">0</text>
<text x="428.70" y="274.60" font-size="6.2" text-anchor="middle" font-weight="bold" fill="#000">*</text>
<text x="385.70" y="358.00" font-size="4.1" text-anchor="middle" font-weight="normal" fill="#000">HindIII</text>
<text x="453.00" y="358.00" font-size="4.1" text-anchor="middle" font-weight="normal" fill="#000">I-SceI</text>
<text x="338.00" y="313.30" font-size="5.2" text-anchor="middle" font-weight="normal" fill="#000" transform="rotate(-90 338.00 313.30)" class="md">Normalized End Joining [%]</text>
<text x="248.30" y="223.90" font-size="5.9" text-anchor="middle" font-weight="normal" fill="#000" class="md">CCRF-HSB2</text>
<text x="296.80" y="223.20" font-size="5.0" text-anchor="start" font-weight="normal" fill="#000" class="md">EV</text>
<text x="295.2" y="231.4" font-size="5.0" fill="#000">KRAS<tspan font-size="3.7" dy="-3.7" dx="0.4">G13D</tspan></text>
<text x="178.30" y="221.65" font-size="2.4" text-anchor="end" font-weight="normal" fill="#333">1.2</text>
<text x="178.30" y="233.28" font-size="2.4" text-anchor="end" font-weight="normal" fill="#333">1.0</text>
<text x="178.30" y="244.92" font-size="2.4" text-anchor="end" font-weight="normal" fill="#333">0.8</text>
<text x="178.30" y="256.55" font-size="2.4" text-anchor="end" font-weight="normal" fill="#333">0.6</text>
<text x="178.30" y="268.18" font-size="2.4" text-anchor="end" font-weight="normal" fill="#333">0.4</text>
<text x="178.30" y="279.82" font-size="2.4" text-anchor="end" font-weight="normal" fill="#333">0.2</text>
<text x="178.30" y="291.45" font-size="2.4" text-anchor="end" font-weight="normal" fill="#333">0.0</text>
<text x="192.40" y="294.60" font-size="2.3" text-anchor="middle" font-weight="normal" fill="#333">Ku86</text>
<text x="213.00" y="294.60" font-size="2.3" text-anchor="middle" font-weight="normal" fill="#333">Ku70</text>
<text x="233.90" y="294.60" font-size="2.3" text-anchor="middle" font-weight="normal" fill="#333">XRCC1</text>
<text x="254.70" y="294.60" font-size="2.3" text-anchor="middle" font-weight="normal" fill="#333">PARP1</text>
<text x="275.40" y="294.60" font-size="2.3" text-anchor="middle" font-weight="normal" fill="#333">Lig3α</text>
<text x="296.30" y="294.60" font-size="2.3" text-anchor="middle" font-weight="normal" fill="#333">Lig4</text>
<text x="171.80" y="258.00" font-size="3.9" text-anchor="middle" font-weight="normal" fill="#333" transform="rotate(-90 171.80 258.00)" style="stroke:none">relative density of protein / Actin</text>
<text x="247.00" y="311.20" font-size="5.8" text-anchor="middle" font-weight="normal" fill="#000" class="md">U-937</text>
<text x="178.30" y="306.75" font-size="2.4" text-anchor="end" font-weight="normal" fill="#333">1.4</text>
<text x="178.30" y="316.78" font-size="2.4" text-anchor="end" font-weight="normal" fill="#333">1.2</text>
<text x="178.30" y="326.81" font-size="2.4" text-anchor="end" font-weight="normal" fill="#333">1.0</text>
<text x="178.30" y="336.84" font-size="2.4" text-anchor="end" font-weight="normal" fill="#333">0.8</text>
<text x="178.30" y="346.86" font-size="2.4" text-anchor="end" font-weight="normal" fill="#333">0.6</text>
<text x="178.30" y="356.89" font-size="2.4" text-anchor="end" font-weight="normal" fill="#333">0.4</text>
<text x="178.30" y="366.92" font-size="2.4" text-anchor="end" font-weight="normal" fill="#333">0.2</text>
<text x="178.30" y="376.95" font-size="2.4" text-anchor="end" font-weight="normal" fill="#333">0.0</text>
<text x="192.40" y="380.20" font-size="2.3" text-anchor="middle" font-weight="normal" fill="#333">Ku86</text>
<text x="213.00" y="380.20" font-size="2.3" text-anchor="middle" font-weight="normal" fill="#333">Ku70</text>
<text x="233.90" y="380.20" font-size="2.3" text-anchor="middle" font-weight="normal" fill="#333">XRCC1</text>
<text x="254.70" y="380.20" font-size="2.3" text-anchor="middle" font-weight="normal" fill="#333">PARP1</text>
<text x="275.40" y="380.20" font-size="2.3" text-anchor="middle" font-weight="normal" fill="#333">Lig3α</text>
<text x="296.30" y="380.20" font-size="2.3" text-anchor="middle" font-weight="normal" fill="#333">Lig4</text>
<text x="171.80" y="336.00" font-size="3.7" text-anchor="middle" font-weight="normal" fill="#333" transform="rotate(-90 171.80 336.00)" style="stroke:none">relative density of protein / Actin</text>
<text x="0.20" y="226.90" font-size="11.2" text-anchor="start" font-weight="bold" fill="#000">E</text>
<text x="32.60" y="251.00" font-size="8.8" text-anchor="start" font-weight="normal" fill="#000" transform="rotate(-45 32.60 251.00)" class="hv">EV</text>
<text class="hv" x="49.8" y="251.6" font-size="8.8" fill="#000" transform="rotate(-45 49.8 251.6)">KRAS<tspan font-size="5.0" dy="-4.2" dx="1.5">G13D</tspan></text>
<text x="80.20" y="251.00" font-size="8.8" text-anchor="start" font-weight="normal" fill="#000" transform="rotate(-45 80.20 251.00)" class="hv">EV</text>
<text class="hv" x="97.0" y="251.6" font-size="8.8" fill="#000" transform="rotate(-45 97.0 251.6)">KRAS<tspan font-size="5.0" dy="-4.2" dx="1.5">G13D</tspan></text>
<text x="120.60" y="266.10" font-size="8.9" text-anchor="start" font-weight="normal" fill="#111" class="hv">Ku86</text>
<text x="120.60" y="281.30" font-size="8.9" text-anchor="start" font-weight="normal" fill="#111" class="hv">Ku70</text>
<text x="120.60" y="297.10" font-size="8.9" text-anchor="start" font-weight="normal" fill="#111" class="hv">XRCC1</text>
<text x="120.60" y="312.90" font-size="8.9" text-anchor="start" font-weight="normal" fill="#111" class="hv">PARP1</text>
<text x="120.60" y="328.60" font-size="8.9" text-anchor="start" font-weight="normal" fill="#111" class="hv">Lig3α</text>
<text x="120.60" y="344.20" font-size="8.9" text-anchor="start" font-weight="normal" fill="#111" class="hv">Lig4</text>
<text x="120.60" y="359.70" font-size="8.9" text-anchor="start" font-weight="normal" fill="#111" class="hv">Actin</text>
<text x="31.60" y="378.80" font-size="9.3" text-anchor="start" font-weight="normal" fill="#111" class="hv">CCRF-</text>
<text x="31.60" y="389.20" font-size="9.1" text-anchor="start" font-weight="normal" fill="#111" class="hv">HSB2</text>
<text x="91.80" y="378.90" font-size="9.3" text-anchor="middle" font-weight="normal" fill="#111" class="hv">U-937</text>
</g>
</svg>
</body></html>
